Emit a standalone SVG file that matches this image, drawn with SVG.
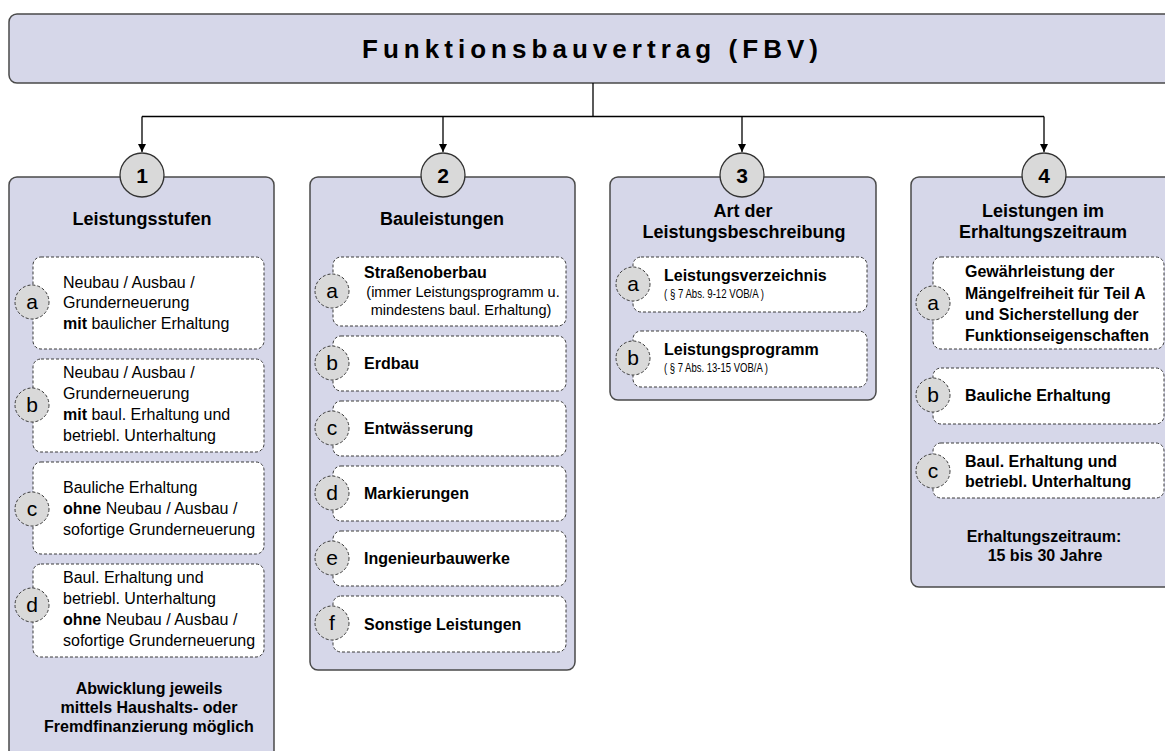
<svg xmlns="http://www.w3.org/2000/svg" width="1165" height="751" viewBox="0 0 1165 751">
  <style>
    text { font-family: "Liberation Sans", Arial, sans-serif; fill: #000; }
    .panel { fill: #D6D7E9; stroke: #4A4A4A; stroke-width: 1.5; }
    .num { fill: #D9D9D9; stroke: #333; stroke-width: 1.3; }
    .numt { font-size: 21px; font-weight: bold; text-anchor: middle; }
    .title { font-size: 18px; font-weight: bold; text-anchor: middle; }
    .item { fill: #FFFFFF; stroke: #3A3A3A; stroke-width: 1; stroke-dasharray: 3 2; }
    .tag { fill: #D9D9D9; stroke: #3A3A3A; stroke-width: 1; stroke-dasharray: 3 2; }
    .tagt { font-size: 21px; text-anchor: middle; }
    .t { font-size: 16px; }
    .b { font-size: 16px; font-weight: bold; }
    .s { font-size: 14.5px; }
    .ref { font-size: 13.5px; }
    .foot { font-size: 16px; font-weight: bold; text-anchor: middle; }
    .conn { fill: none; stroke: #000; stroke-width: 1.3; }
  </style>
  <defs>
    <marker id="arrow" viewBox="0 0 8 8" refX="8" refY="4" markerWidth="8" markerHeight="8" markerUnits="userSpaceOnUse" orient="auto">
      <path d="M0,0 L8,4 L0,8 Z" fill="#000"/>
    </marker>
  </defs>

  <rect width="1165" height="751" fill="#FFFFFF"/>

  <!-- header -->
  <g id="header">
    <rect class="panel" x="9" y="14" width="1170" height="69" rx="8"/>
    <text x="590" y="58" font-size="26" font-weight="bold" text-anchor="middle" textLength="456" lengthAdjust="spacing">Funktionsbauvertrag (FBV)</text>
  </g>

  <!-- connectors -->
  <g id="connectors">
    <path class="conn" d="M593,83 V116.5"/>
    <path class="conn" d="M142,116.5 H1044"/>
    <path class="conn" d="M142,116.5 V152" marker-end="url(#arrow)"/>
    <path class="conn" d="M443,116.5 V152" marker-end="url(#arrow)"/>
    <path class="conn" d="M742,116.5 V152" marker-end="url(#arrow)"/>
    <path class="conn" d="M1044,116.5 V152" marker-end="url(#arrow)"/>
  </g>

  <!-- column 1 -->
  <g id="col1">
    <rect class="panel" x="9" y="177" width="265" height="600" rx="8"/>
    <circle class="num" cx="142" cy="175" r="22"/>
    <text class="numt" x="142" y="183">1</text>
    <text class="title" x="142" y="225">Leistungsstufen</text>
  </g>
  <g id="col1-a">
    <rect class="item" x="33" y="257" width="231" height="92" rx="8"/>
    <circle class="tag" cx="32" cy="302" r="17"/>
    <text class="tagt" x="32" y="309">a</text>
    <text class="t" x="63" y="288">Neubau / Ausbau /</text>
    <text class="t" x="63" y="308">Grunderneuerung</text>
    <text class="t" x="63" y="329"><tspan font-weight="bold">mit</tspan> baulicher Erhaltung</text>
  </g>
  <g id="col1-b">
    <rect class="item" x="33" y="359" width="231" height="93" rx="8"/>
    <circle class="tag" cx="32" cy="405" r="17"/>
    <text class="tagt" x="32" y="412">b</text>
    <text class="t" x="63" y="378">Neubau / Ausbau /</text>
    <text class="t" x="63" y="399">Grunderneuerung</text>
    <text class="t" x="63" y="420"><tspan font-weight="bold">mit</tspan> baul. Erhaltung und</text>
    <text class="t" x="63" y="441">betriebl. Unterhaltung</text>
  </g>
  <g id="col1-c">
    <rect class="item" x="33" y="462" width="231" height="92" rx="8"/>
    <circle class="tag" cx="32" cy="509" r="17"/>
    <text class="tagt" x="32" y="516">c</text>
    <text class="t" x="63" y="493">Bauliche Erhaltung</text>
    <text class="t" x="63" y="514"><tspan font-weight="bold">ohne</tspan> Neubau / Ausbau /</text>
    <text class="t" x="63" y="535">sofortige Grunderneuerung</text>
  </g>
  <g id="col1-d">
    <rect class="item" x="33" y="564" width="231" height="93" rx="8"/>
    <circle class="tag" cx="32" cy="605" r="17"/>
    <text class="tagt" x="32" y="612">d</text>
    <text class="t" x="63" y="583">Baul. Erhaltung und</text>
    <text class="t" x="63" y="604">betriebl. Unterhaltung</text>
    <text class="t" x="63" y="625"><tspan font-weight="bold">ohne</tspan> Neubau / Ausbau /</text>
    <text class="t" x="63" y="646">sofortige Grunderneuerung</text>
  </g>
  <g id="col1-note">
    <text class="foot" x="149" y="694">Abwicklung jeweils</text>
    <text class="foot" x="149" y="713">mittels Haushalts- oder</text>
    <text class="foot" x="149" y="732">Fremdfinanzierung möglich</text>
  </g>

  <!-- column 2 -->
  <g id="col2">
    <rect class="panel" x="310" y="177" width="265" height="493" rx="8"/>
    <circle class="num" cx="443" cy="175" r="22"/>
    <text class="numt" x="443" y="183">2</text>
    <text class="title" x="442" y="225">Bauleistungen</text>
  </g>
  <g id="col2-a">
    <rect class="item" x="333" y="257" width="233" height="69" rx="8"/>
    <circle class="tag" cx="332" cy="291" r="17"/>
    <text class="tagt" x="332" y="298">a</text>
    <text class="b" x="364" y="278">Straßenoberbau</text>
    <text class="s" x="463" y="297" text-anchor="middle">(immer Leistungsprogramm u.</text>
    <text class="s" x="461" y="315" text-anchor="middle">mindestens baul. Erhaltung)</text>
  </g>
  <g id="col2-b">
    <rect class="item" x="333" y="336" width="233" height="55" rx="8"/>
    <circle class="tag" cx="332" cy="363" r="17"/>
    <text class="tagt" x="332" y="370">b</text>
    <text class="b" x="364" y="369">Erdbau</text>
  </g>
  <g id="col2-c">
    <rect class="item" x="333" y="401" width="233" height="55" rx="8"/>
    <circle class="tag" cx="332" cy="428" r="17"/>
    <text class="tagt" x="332" y="435">c</text>
    <text class="b" x="364" y="434">Entwässerung</text>
  </g>
  <g id="col2-d">
    <rect class="item" x="333" y="466" width="233" height="55" rx="8"/>
    <circle class="tag" cx="332" cy="493" r="17"/>
    <text class="tagt" x="332" y="500">d</text>
    <text class="b" x="364" y="499">Markierungen</text>
  </g>
  <g id="col2-e">
    <rect class="item" x="333" y="531" width="233" height="55" rx="8"/>
    <circle class="tag" cx="332" cy="558" r="17"/>
    <text class="tagt" x="332" y="565">e</text>
    <text class="b" x="364" y="564">Ingenieurbauwerke</text>
  </g>
  <g id="col2-f">
    <rect class="item" x="333" y="596" width="233" height="56" rx="8"/>
    <circle class="tag" cx="332" cy="623" r="17"/>
    <text class="tagt" x="332" y="630">f</text>
    <text class="b" x="364" y="630">Sonstige Leistungen</text>
  </g>

  <!-- column 3 -->
  <g id="col3">
    <rect class="panel" x="610" y="177" width="266" height="223" rx="8"/>
    <circle class="num" cx="742" cy="175" r="22"/>
    <text class="numt" x="742" y="183">3</text>
    <text class="title" x="743" y="217">Art der</text>
    <text class="title" x="744" y="238">Leistungsbeschreibung</text>
  </g>
  <g id="col3-a">
    <rect class="item" x="633" y="257" width="234" height="55" rx="8"/>
    <circle class="tag" cx="633" cy="284" r="17"/>
    <text class="tagt" x="633" y="291">a</text>
    <text class="b" x="664" y="281">Leistungsverzeichnis</text>
    <text class="ref" x="664" y="298" textLength="100" lengthAdjust="spacingAndGlyphs">( § 7 Abs. 9-12 VOB/A )</text>
  </g>
  <g id="col3-b">
    <rect class="item" x="633" y="331" width="234" height="56" rx="8"/>
    <circle class="tag" cx="633" cy="358" r="17"/>
    <text class="tagt" x="633" y="365">b</text>
    <text class="b" x="664" y="355">Leistungsprogramm</text>
    <text class="ref" x="664" y="372" textLength="104" lengthAdjust="spacingAndGlyphs">( § 7 Abs. 13-15 VOB/A )</text>
  </g>

  <!-- column 4 -->
  <g id="col4">
    <rect class="panel" x="911" y="177" width="270" height="410" rx="8"/>
    <circle class="num" cx="1044" cy="175" r="22"/>
    <text class="numt" x="1044" y="183">4</text>
    <text class="title" x="1043" y="217">Leistungen im</text>
    <text class="title" x="1043" y="238">Erhaltungszeitraum</text>
  </g>
  <g id="col4-a">
    <rect class="item" x="933" y="257" width="231" height="92" rx="8"/>
    <circle class="tag" cx="933" cy="303" r="17"/>
    <text class="tagt" x="933" y="310">a</text>
    <text class="b" x="965" y="277">Gewährleistung der</text>
    <text class="b" x="965" y="299">Mängelfreiheit für Teil A</text>
    <text class="b" x="965" y="320">und Sicherstellung der</text>
    <text class="b" x="965" y="341">Funktionseigenschaften</text>
  </g>
  <g id="col4-b">
    <rect class="item" x="933" y="368" width="231" height="56" rx="8"/>
    <circle class="tag" cx="933" cy="395" r="17"/>
    <text class="tagt" x="933" y="402">b</text>
    <text class="b" x="965" y="401">Bauliche Erhaltung</text>
  </g>
  <g id="col4-c">
    <rect class="item" x="933" y="443" width="231" height="55" rx="8"/>
    <circle class="tag" cx="933" cy="471" r="17"/>
    <text class="tagt" x="933" y="478">c</text>
    <text class="b" x="965" y="467">Baul. Erhaltung und</text>
    <text class="b" x="965" y="487">betriebl. Unterhaltung</text>
  </g>
  <g id="col4-note">
    <text class="foot" x="1044" y="542">Erhaltungszeitraum:</text>
    <text class="foot" x="1045" y="561">15 bis 30 Jahre</text>
  </g>
</svg>
